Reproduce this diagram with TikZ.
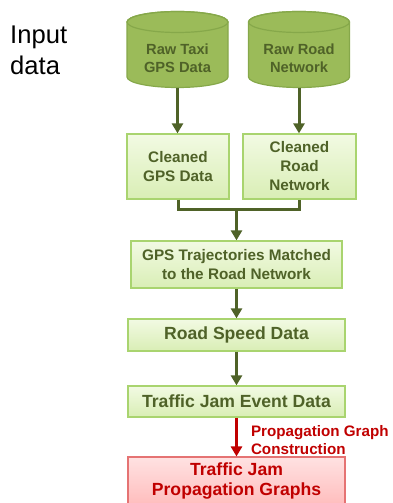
\documentclass[tikz,border=0pt]{standalone}
\usepackage{fontspec}
\setmainfont{Liberation Sans}
\usetikzlibrary{arrows.meta,calc}
\definecolor{cylfill}{HTML}{9BBB59}
\definecolor{cylline}{HTML}{86A84A}
\definecolor{dgreen}{HTML}{4F6228}
\definecolor{boxtop}{HTML}{F2FAE3}
\definecolor{boxbot}{HTML}{D9EEB5}
\definecolor{boxline}{HTML}{A9D46F}
\definecolor{dred}{HTML}{C00000}
\definecolor{redtop}{HTML}{FFE2E2}
\definecolor{redbot}{HTML}{FFBDBD}
\definecolor{redline}{HTML}{E57373}
\tikzset{
  x=1pt, y=1pt,
  cyltext/.style={text=dgreen, font=\fontsize{14.7}{18}\selectfont\bfseries, align=center,
    minimum width=101pt, minimum height=59pt, inner sep=0pt},
  greenbox/.style={draw=boxline, line width=1.2pt, top color=boxtop, bottom color=boxbot,
    text=dgreen, font=\fontsize{15.3}{19}\selectfont\bfseries, align=center, inner sep=0pt},
  bigtext/.style={font=\fontsize{17.6}{20}\selectfont\bfseries},
  redbox/.style={draw=redline, line width=1.2pt, top color=redtop, bottom color=redbot,
    text=dred, font=\fontsize{17.6}{20}\selectfont\bfseries, align=center, inner sep=0pt},
  flow/.style={draw=dgreen, line width=3pt},
  flowarr/.style={flow, -{Triangle[width=11pt,length=10pt]}},
  redarr/.style={draw=dred, line width=3pt, -{Triangle[width=11pt,length=10pt]}},
}
\newcommand{\cylshape}[2]{%
  \filldraw[fill=cylfill, draw=cylline, line width=1.2pt]
    (#1-50.5,#2) -- (#1-50.5,426) arc (180:360:50.5 and 10.5) -- (#1+50.5,#2) arc (0:180:50.5 and 10.5) -- cycle;
  \draw[cylline, line width=1.2pt] (#1,#2) ellipse (50.5 and 10.5);
}
\begin{document}
\begin{tikzpicture}
\useasboundingbox (0,0) rectangle (392,503);
% input data label
\node[anchor=north west, inner sep=0pt, align=left, font=\fontsize{25.6}{31}\selectfont] (inp) at (10,477) {Input\\data};
% cylinders
\cylshape{177.5}{481}
\cylshape{299}{481}
\node[cyltext] (c1) at (177.5,445) {Raw Taxi\\GPS Data};
\node[cyltext] (c2) at (299,445) {Raw Road\\Network};
% cleaned boxes
\node[greenbox, minimum width=102pt, minimum height=65pt] (g1) at (178,336.5) {Cleaned\\GPS Data};
\node[greenbox, minimum width=113pt, minimum height=65pt] (r1) at (299.5,336.5) {Cleaned\\Road\\Network};
% matched
\node[greenbox, minimum width=211pt, minimum height=47pt] (m1) at (236.5,238.5) {GPS Trajectories Matched\\to the Road Network};
\node[greenbox, bigtext, minimum width=217pt, minimum height=32pt] (s1) at (236.5,168) {Road Speed Data};
\node[greenbox, bigtext, minimum width=217pt, minimum height=31pt] (e1) at (236.5,101.5) {Traffic Jam Event Data};
\node[redbox, minimum width=217pt, minimum height=47.5pt] (p1) at (236.5,22.2) {Traffic Jam\\Propagation Graphs};
% connectors
\draw[flowarr] (c1.south) -- (c1.south |- g1.north);
\draw[flowarr] (c2.south) -- (c2.south |- r1.north);
\coordinate (j) at (236.5,293);
\draw[flow] (g1.south) -- (g1.south |- j) -- (r1.south |- j) -- (r1.south);
\draw[flowarr] (j) -- (m1.north);
\draw[flowarr] (m1.south) -- (s1.north);
\draw[flowarr] (s1.south) -- (e1.north);
\draw[redarr] (e1.south) -- (p1.north) node[pos=0.575, right=13pt, inner sep=0pt, align=left, text=dred, font=\fontsize{15.2}{17.5}\selectfont\bfseries] (lab) {Propagation Graph\\Construction};
\end{tikzpicture}
\end{document}
